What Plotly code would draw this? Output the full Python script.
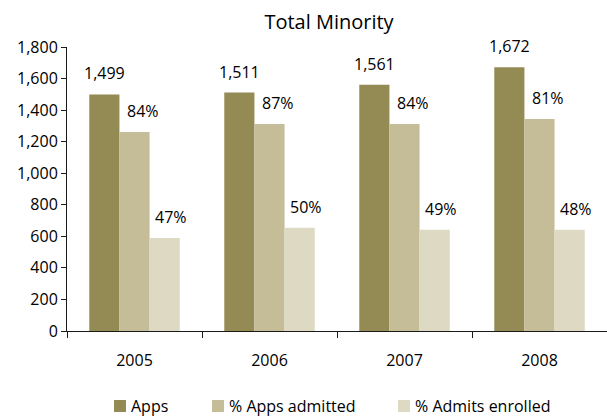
import plotly.graph_objects as go

years = ["2005", "2006", "2007", "2008"]
apps = [1499, 1511, 1561, 1672]
admitted = [1261, 1312, 1312, 1343]
enrolled = [590, 654, 641, 641]
apps_labels = ["1,499", "1,511", "1,561", "1,672"]
admitted_labels = ["84%", "87%", "84%", "81%"]
enrolled_labels = ["47%", "50%", "49%", "48%"]

series = [
    ("Apps", apps, apps_labels, "#948A54"),
    ("% Apps admitted", admitted, admitted_labels, "#C4BD97"),
    ("% Admits enrolled", enrolled, enrolled_labels, "#DDD9C3"),
]

FONT = "Open Sans, Lato, DejaVu Sans, sans-serif"
W, H = 607, 417
ML, MR, MT, MB = 67, 0, 47, 86
PW, PH = W - ML - MR, H - MT - MB

fig = go.Figure()
for name, vals, labels, color in series:
    fig.add_trace(go.Bar(
        x=years, y=vals, name=name,
        marker=dict(color=color, line=dict(width=0)),
        hoverinfo="skip", showlegend=False,
    ))

# data labels placed above bars (x given as category index)
bar_px = 30.5
label_dx = [0, 8, 6]
for i, (name, vals, labels, color) in enumerate(series):
    off = (i - 1) * bar_px + label_dx[i]
    for k, (v, lab) in enumerate(zip(vals, labels)):
        fig.add_annotation(
            x=k, y=v, xref="x", yref="y", text=lab, showarrow=False,
            xshift=off, yshift=21, yanchor="middle", xanchor="center",
            font=dict(size=16, color="#000000", family=FONT),
        )

# legend drawn as swatches + text (pixel layout converted to paper coords)
legend_swatch_px = [114, 212, 398]
legend_y_px = 406
ly = (H - MB - legend_y_px) / PH
sw = 12
for (name, vals, labels, color), sx in zip(series, legend_swatch_px):
    x0 = (sx - ML) / PW
    x1 = (sx + sw - ML) / PW
    fig.add_shape(type="rect", xref="paper", yref="paper",
                  x0=x0, x1=x1, y0=ly - (sw / 2) / PH, y1=ly + (sw / 2) / PH,
                  fillcolor=color, line=dict(width=0), layer="above")
    fig.add_annotation(x=(sx + sw + 3 - ML) / PW, y=ly, xref="paper", yref="paper",
                       text=name, showarrow=False, xanchor="left", yanchor="middle",
                       font=dict(size=16, color="#000000", family=FONT))

fig.update_layout(
    width=W, height=H,
    margin=dict(l=ML, r=MR, t=MT, b=MB, autoexpand=False),
    paper_bgcolor="white", plot_bgcolor="white",
    barmode="group", bargap=0.33, bargroupgap=0,
    font=dict(family=FONT, size=16, color="#000000"),
    title=dict(text="Total Minority", x=329 / W, xref="container", xanchor="center",
               y=1 - 22 / H, yanchor="middle", yref="container",
               font=dict(size=20, color="#000000", family=FONT)),
    showlegend=False,
)
fig.update_xaxes(
    type="category", range=[-0.5, len(years) - 0.5], autorange=False,
    showline=True, linecolor="#1a1a1a", linewidth=1,
    ticks="outside", ticklen=6, tickcolor="#1a1a1a", tickson="boundaries",
    showgrid=False, tickfont=dict(size=16), ticklabelstandoff=15,
    fixedrange=True, automargin=False,
)
fig.update_yaxes(
    range=[0, 1800], autorange=False, dtick=200, tickformat=",",
    showline=True, linecolor="#1a1a1a", linewidth=1,
    ticks="outside", ticklen=5, tickcolor="#1a1a1a",
    showgrid=False, zeroline=False, tickfont=dict(size=16),
    fixedrange=True, automargin=False,
)

fig.write_html(
    "out.html",
    config={"displayModeBar": False},
    post_script="document.body.style.margin='0';document.body.style.overflow='hidden';",
)
